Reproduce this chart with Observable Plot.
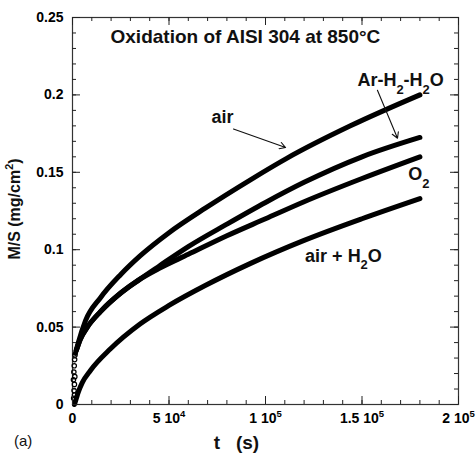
<!DOCTYPE html>
<html><head><meta charset="utf-8">
<script src="https://cdn.jsdelivr.net/npm/d3@7"></script>
<script src="https://cdn.jsdelivr.net/npm/@observablehq/plot@0.6"></script>
<style>
body{margin:0;background:#fff;}
#chart{width:476px;height:454px;position:relative;}
</style>
</head><body><div id="chart"></div>
<script>
// ---- data (t in seconds, M/S in mg/cm^2) ----
const tAir   = [1500, 3000, 6700, 14500, 25000, 35000, 50000, 69000, 92000, 111000, 144000, 180000];
const vAir   = [0.033, 0.040, 0.054, 0.069, 0.084, 0.096, 0.111, 0.127, 0.145, 0.159, 0.180, 0.200];
const tAr    = [2000, 4000, 7700, 14500, 25000, 35000, 45000, 60000, 80000, 100000, 120000, 150000, 180000];
const vAr    = [0.035, 0.042, 0.050, 0.060, 0.072, 0.081, 0.0895, 0.102, 0.1165, 0.1305, 0.1435, 0.160, 0.1725];
const tO2    = [2000, 4000, 7700, 14500, 25000, 35000, 45000, 60000, 80000, 100000, 120000, 150000, 180000];
const vO2    = [0.035, 0.042, 0.050, 0.060, 0.072, 0.081, 0.088, 0.097, 0.109, 0.120, 0.131, 0.146, 0.160];
const tAirH2O = [1000, 2000, 3000, 5000, 9300, 19700, 35000, 50000, 69000, 92000, 120000, 150000, 180000];
const vAirH2O = [0.000, 0.004, 0.008, 0.014, 0.022, 0.036, 0.052, 0.064, 0.077, 0.091, 0.106, 0.120, 0.133];
// early scattered measurements near the origin
const tEarly = [600, 800, 1000, 1200, 700, 900, 1100, 1300, 500, 1000];
const vEarly = [0.004, 0.009, 0.013, 0.018, 0.021, 0.025, 0.029, 0.032, 0.016, 0.006];

// axes
const xMajor = [0, 50000, 100000, 150000, 200000];
const xMajorLabels = ["0", "5 10^4", "1 10^5", "1.5 10^5", "2 10^5"];
const yMajor = [0, 0.05, 0.1, 0.15, 0.2, 0.25];
const yMajorLabels = ["0", "0.05", "0.1", "0.15", "0.2", "0.25"];
const xMinor = d3.range(0, 200001, 10000);
const yMinor = d3.range(0, 0.2501, 0.01);

// annotations
const labelText = ["air", "Ar-H_2-H_2O", "air + H_2O"];
const labelT    = [77700, 170000, 140400];
const labelV    = [0.1854, 0.2095, 0.0960];
const o2Text = "O_2", o2T = 174000, o2V = 0.1485;
const arrowT1 = [83400, 158000], arrowV1 = [0.178, 0.203];
const arrowT2 = [110400, 168400], arrowV2 = [0.166, 0.172];
const titleText = "Oxidation of AISI 304 at 850°C";

// build tables
const series = [
  ["air", tAir, vAir], ["Ar-H2-H2O", tAr, vAr], ["O2", tO2, vO2], ["air + H2O", tAirH2O, vAirH2O]
];
const lineData = series.flatMap(([name, ts, vs]) => ts.map((t, i) => ({name, t, v: vs[i]})));
const earlyData = tEarly.map((t, i) => ({t, v: vEarly[i]}));
const labels = labelText.map((s, i) => ({s, t: labelT[i], v: labelV[i]}));
const arrows = arrowT1.map((t, i) => ({t1: t, v1: arrowV1[i], t2: arrowT2[i], v2: arrowV2[i]}));

const FONT = "Liberation Sans, Arial, Helvetica, sans-serif";
const TICK = "#222";
const xFmt = d => xMajorLabels[xMajor.indexOf(d)];
const yFmt = d => yMajorLabels[yMajor.findIndex(y => Math.abs(y - d) < 1e-9)];

const W = 476, H = 454, ML = 72, MR = 18, MT = 17, MB = 50;
const FW = W - ML - MR, FH = H - MT - MB;

// inward ticks on all four sides: ticks spanning the frame, inset to a short stub
const ticksX = (vals, len) => [
  Plot.tickX(vals, {x: d => d, insetTop: FH - len, stroke: TICK, strokeWidth: 1}),
  Plot.tickX(vals, {x: d => d, insetBottom: FH - len, stroke: TICK, strokeWidth: 1})
];
const ticksY = (vals, len) => [
  Plot.tickY(vals, {y: d => d, insetRight: FW - len, stroke: TICK, strokeWidth: 1}),
  Plot.tickY(vals, {y: d => d, insetLeft: FW - len, stroke: TICK, strokeWidth: 1})
];

const plot = Plot.plot({
  width: W, height: H,
  marginLeft: ML, marginRight: MR, marginTop: MT, marginBottom: MB,
  style: {background: "white", overflow: "visible"},
  x: {domain: [0, 200000]},
  y: {domain: [0, 0.25]},
  marks: [
    Plot.frame({stroke: "#333", strokeWidth: 1.2, fill: "none"}),
    // tick labels
    Plot.axisX(xMajor, {anchor: "bottom", tickSize: 0, tickPadding: 9, tickFormat: xFmt, fontSize: 14, fontWeight: "bold", label: null}),
    Plot.axisY(yMajor, {anchor: "left", tickSize: 0, tickPadding: 9, tickFormat: yFmt, fontSize: 14, fontWeight: "bold", label: null}),
    // data
    Plot.line(lineData, {x: "t", y: "v", z: "name", stroke: "black", strokeWidth: 5, curve: "monotone-x", strokeLinecap: "round"}),
    Plot.dot(earlyData, {x: "t", y: "v", r: 2.2, stroke: "black", strokeWidth: 1.2, fill: "none"}),
    // annotations
    Plot.arrow(arrows, {x1: "t1", y1: "v1", x2: "t2", y2: "v2", stroke: "#111", strokeWidth: 1.1, headLength: 9, bend: 0}),
    Plot.text(labels, {x: "t", y: "v", text: "s", textAnchor: "middle", fontSize: 18, fontWeight: "bold", fill: "#111"}),
    Plot.text([o2Text], {x: o2T, y: o2V, text: d => d, textAnchor: "start", fontSize: 18, fontWeight: "bold", fill: "#111"}),
    Plot.text([titleText], {x: 89600, y: 0.2375, text: d => d, fontSize: 19, fontWeight: "bold", fill: "#111"}),
    // inward tick marks, drawn last
    ...ticksX(xMinor, 4), ...ticksX(xMajor, 8),
    ...ticksY(yMinor, 4), ...ticksY(yMajor, 8)
  ]
});
plot.style.fontFamily = FONT;
document.getElementById("chart").appendChild(plot);

// extra labels outside the plotting frame (axis titles and panel tag)
const svg = d3.select(plot);
svg.append("text").attr("x", 236.5).attr("y", 449).attr("text-anchor", "middle")
  .attr("font-family", FONT).attr("font-size", 19).attr("font-weight", "bold").attr("fill", "#111")
  .attr("xml:space", "preserve").style("white-space", "pre").text("t   (s)");
svg.append("text").attr("transform", "translate(20,209) rotate(-90)").attr("text-anchor", "middle")
  .attr("font-family", FONT).attr("font-size", 16).attr("font-weight", "bold").attr("fill", "#111")
  .text("M/S (mg/cm^2)");
svg.append("text").attr("x", 14).attr("y", 446).attr("text-anchor", "start")
  .attr("font-family", FONT).attr("font-size", 15).attr("fill", "#111").text("(a)");

// convert _x and ^x markers to real subscript / superscript tspans
plot.querySelectorAll("text").forEach(t => {
  const s = t.textContent;
  if (!/[_^]/.test(s)) return;
  const fs = parseFloat(getComputedStyle(t).fontSize) || 13;
  while (t.firstChild) t.removeChild(t.firstChild);
  const parts = s.split(/([_^].)/).filter(p => p);
  let shift = 0;
  parts.forEach(p => {
    const ts = document.createElementNS("http://www.w3.org/2000/svg", "tspan");
    let target = 0, txt = p, size = null;
    if (p[0] === "_") { target = 0.42 * fs; txt = p[1]; size = 0.72 * fs; }
    else if (p[0] === "^") { target = -0.45 * fs; txt = p[1]; size = 0.68 * fs; }
    const dy = target - shift;
    if (dy) ts.setAttribute("dy", dy);
    if (size) ts.setAttribute("font-size", size);
    shift = target;
    ts.textContent = txt;
    t.appendChild(ts);
  });
});
</script>
</body></html>
